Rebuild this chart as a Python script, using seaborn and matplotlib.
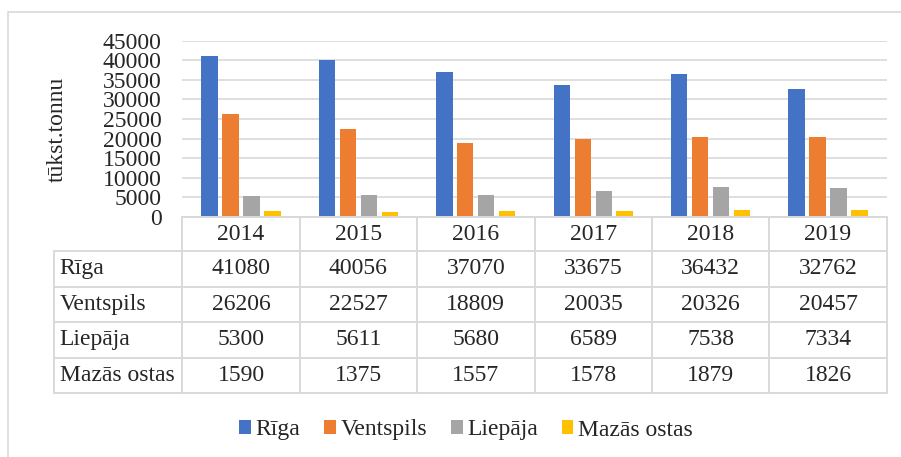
import numpy as np
import pandas as pd
import matplotlib.pyplot as plt
from matplotlib.lines import Line2D
from matplotlib.patches import Rectangle, Patch
import seaborn as sns

years = ['2014', '2015', '2016', '2017', '2018', '2019']
ports = ['Rīga', 'Ventspils', 'Liepāja', 'Mazās ostas']
riga = [41080, 40056, 37070, 33675, 36432, 32762]
ventspils = [26206, 22527, 18809, 20035, 20326, 20457]
liepaja = [5300, 5611, 5680, 6589, 7538, 7334]
mazas = [1590, 1375, 1557, 1578, 1879, 1826]
colors = ['#4472C4', '#ED7D31', '#A5A5A5', '#FFC000']
y_label = 'tūkst.tonnu'

series = [riga, ventspils, liepaja, mazas]
df = pd.DataFrame({
    'year': np.tile(years, len(ports)),
    'port': np.repeat(ports, len(years)),
    'value': np.concatenate(series),
})

sns.set_style('white')
FONT = 'Liberation Serif'
plt.rcParams['font.family'] = [FONT]
plt.rcParams['font.serif'] = [FONT]
FS = 17
GRID = '#d9d9d9'

W, H = 901, 457
fig = plt.figure(figsize=(W / 100, H / 100), dpi=100)

# layout in pixels
L, R, T, B = 182.3, 886.7, 40.7, 217.0
ax = fig.add_axes([L / W, 1 - B / H, (R - L) / W, (B - T) / H])

sns.barplot(data=df, x='year', y='value', hue='port', palette=colors, saturation=1,
            width=0.715, gap=0.22, linewidth=0, legend=False, ax=ax)
ax.set_ylim(0, 45000)
ax.set_yticks(range(0, 45001, 5000))
ax.yaxis.grid(True, color=GRID, lw=1.2)
ax.set_axisbelow(True)
ax.set_xlabel('')
ax.set_ylabel('')
ax.set_xticks([])
ax.tick_params(axis='y', length=0, pad=15, labelsize=FS)
for lab in ax.get_yticklabels():
    lab.set_family(FONT)
for s in ax.spines.values():
    s.set_visible(False)

fig.text(57 / W, 1 - 129 / H, y_label, rotation=90, ha='center', va='center',
         fontsize=FS, family=FONT)

# outer chart border
fig.add_artist(Rectangle((8 / W, -0.2), 1.2, 1.2 - 12 / H, transform=fig.transFigure,
                         fill=False, edgecolor=GRID, lw=1.2))


def fx(px):
    return px / W


def fy(py):
    return 1 - py / H


def hline(x0, x1, y):
    fig.add_artist(Line2D([fx(x0), fx(x1)], [fy(y), fy(y)], color=GRID, lw=1.4))


def vline(x, y0, y1):
    fig.add_artist(Line2D([fx(x), fx(x)], [fy(y0), fy(y1)], color=GRID, lw=1.4))


# data table under the axes
label_left = 54.0
col_w = (R - L) / len(years)
head_h = 34.0
row_h = 35.5
row_edges = [B, B + head_h] + [B + head_h + row_h * (i + 1) for i in range(len(ports))]

hline(L, R, row_edges[0])
for y in row_edges[1:]:
    hline(label_left, R, y)
for i in range(len(years) + 1):
    vline(L + i * col_w, row_edges[0], row_edges[-1])
vline(label_left, row_edges[1], row_edges[-1])

for i, yr in enumerate(years):
    fig.text(fx(L + (i + 0.5) * col_w), fy((row_edges[0] + row_edges[1]) / 2), yr,
             ha='center', va='center', fontsize=FS, family=FONT)
for j, (name, vals) in enumerate(zip(ports, series)):
    yc = (row_edges[j + 1] + row_edges[j + 2]) / 2
    fig.text(fx(label_left + 5.5), fy(yc), name, ha='left', va='center',
             fontsize=FS, family=FONT)
    for i, v in enumerate(vals):
        fig.text(fx(L + (i + 0.5) * col_w), fy(yc), str(v), ha='center', va='center',
                 fontsize=FS, family=FONT)

handles = [Patch(facecolor=c, edgecolor='none', label=p) for c, p in zip(colors, ports)]
fig.legend(handles=handles, loc='center', bbox_to_anchor=(466 / W, 1 - 430 / H), ncol=4,
           frameon=False, prop={'family': FONT, 'size': FS}, handlelength=0.5,
           handleheight=0.5, handletextpad=0.2, columnspacing=1.0)

fig.savefig('out.png', dpi=100)
